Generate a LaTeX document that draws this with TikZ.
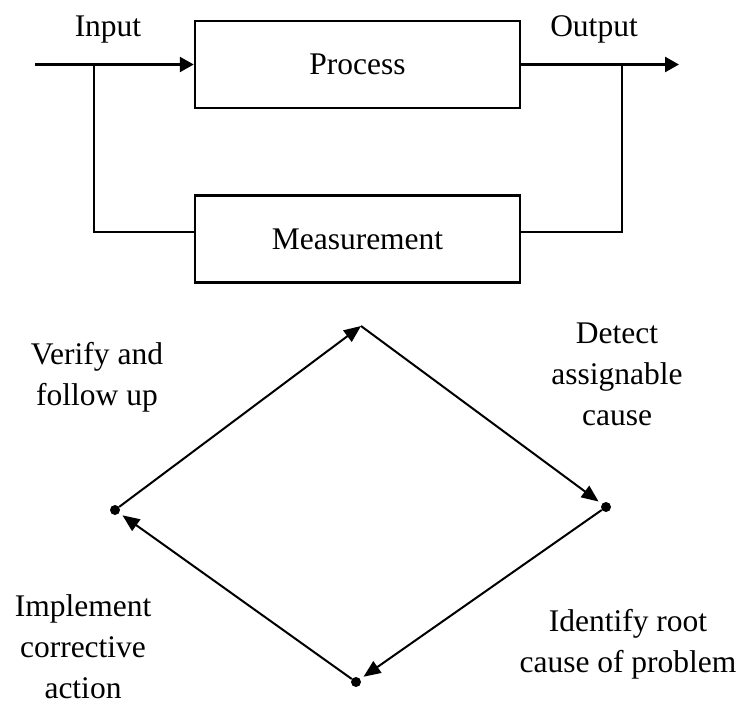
\documentclass[tikz,border=0pt]{standalone}
\usepackage{fontspec}
\setmainfont{Liberation Serif}
\usetikzlibrary{arrows.meta}

\begin{document}
\begin{tikzpicture}[x=1pt,y=-1pt,
    lbl/.style={align=center,font=\fontsize{31.5}{41}\selectfont},
    blk/.style={draw,line width=2.5pt,minimum width=325pt,minimum height=87pt},
    fb/.style={line width=2.5pt},
    flow/.style={fb,-{Triangle[length=14pt,width=15pt]}},
    cyc/.style={line width=2pt,-{Triangle[length=17pt,width=14pt]}},
    knot/.style={circle,fill,inner sep=0pt,minimum size=10pt}]
    \useasboundingbox (0,0) rectangle (742,706);
    % control loop
    \node[lbl,blk] (process) at (357.5,64.5) {Process};
    \node[lbl,blk] (measure) at (357.5,239) {Measurement};
    \node[lbl,anchor=base] (inlbl) at (108,37) {Input};
    \node[lbl,anchor=base] (outlbl) at (594,37) {Output};
    \coordinate (in) at (35,64.5);
    \coordinate (out) at (679,64.5);
    \coordinate (inj) at (94,64.5);
    \coordinate (outj) at (622,64.5);
    \draw[flow] (in) -- (process);
    \draw[flow] (process) -- (out);
    \draw[fb] (inj) |- ([yshift=7pt]measure.west);
    \draw[fb] (outj) |- ([yshift=7pt]measure.east);
    % improvement cycle
    \coordinate (apex) at (361,326);
    \node[knot] (dR) at (606,507) {};
    \node[knot] (dB) at (356,682) {};
    \node[knot] (dL) at (115,510) {};
    \draw[cyc] (dL) -- (apex);
    \draw[cyc,shorten >=4pt] (apex) -- (dR);
    \foreach \a/\b in {dR/dB,dB/dL}{
        \draw[cyc,shorten >=4pt] (\a) -- (\b);
    }
    \node[lbl] (verify) at (97,377) {Verify and\\follow up};
    \node[lbl] (detect) at (617,374) {Detect\\assignable\\cause};
    \node[lbl] (implement) at (83,647) {Implement\\corrective\\action};
    \node[lbl] (identify) at (628,644) {Identify root\\cause of problem};
\end{tikzpicture}
\end{document}
